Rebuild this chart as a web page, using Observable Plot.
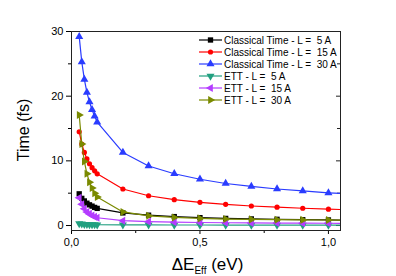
<!DOCTYPE html>
<html>
<head>
<meta charset="utf-8">
<script src="https://cdn.jsdelivr.net/npm/d3@7"></script>
<script src="https://cdn.jsdelivr.net/npm/@observablehq/plot@0.6"></script>
<style>
  html, body { margin: 0; padding: 0; background: #fff; }
  #chart svg { display: block; }
</style>
</head>
<body>
<div id="chart"></div>
<script>
// ---- data ----
const energies = [0.03, 0.04, 0.05, 0.06, 0.07, 0.08, 0.09, 0.1, 0.2, 0.3, 0.4, 0.5, 0.6, 0.7, 0.8, 0.9, 1.0, 1.1];
const classical5  = [4.9, 4.2, 3.8, 3.45, 3.2, 3.0, 2.8, 2.65, 1.95, 1.6, 1.38, 1.22, 1.1, 1.02, 0.96, 0.9, 0.86, 0.82];
const classical15 = [14.5, 12.6, 11.3, 10.3, 9.55, 8.95, 8.45, 8.0, 5.65, 4.6, 4.0, 3.58, 3.27, 3.02, 2.83, 2.67, 2.53, 2.42];
const classical30 = [29.2, 25.3, 22.6, 20.6, 19.1, 17.9, 16.9, 16.0, 11.3, 9.2, 8.0, 7.15, 6.5, 6.05, 5.65, 5.35, 5.06, 4.83];
const ett5  = [0.3, 0.25, 0.2, 0.18, 0.16, 0.14, 0.13, 0.12, 0.1, 0.09, 0.08, 0.08, 0.07, 0.07, 0.07, 0.06, 0.06, 0.06];
const ett15 = [4.3, 3.3, 2.6, 2.1, 1.8, 1.55, 1.35, 1.2, 0.75, 0.6, 0.52, 0.47, 0.43, 0.4, 0.38, 0.36, 0.35, 0.34];
const ett30 = [17.1, 12.6, 9.9, 8.0, 6.7, 5.8, 5.0, 4.4, 2.1, 1.5, 1.25, 1.1, 1.0, 0.95, 0.9, 0.87, 0.85, 0.83];
const seriesNames = [
  "Classical Time - L =  5 A",
  "Classical Time - L =  15 A",
  "Classical Time - L =  30 A",
  "ETT - L =  5 A",
  "ETT - L =  15 A",
  "ETT - L =  30 A"
];
const seriesValues = [classical5, classical15, classical30, ett5, ett15, ett30];
const yTicks = [0, 10, 20, 30];
const yMinorTicks = [5, 15, 25];
const xTicks = [0, 0.5, 1.0];
const xMinorTicks = [0.25, 0.75];

// ---- styles ----
const colors = ["#000000", "#ff0000", "#2a3cff", "#22a080", "#b43cff", "#7a8a00"];
const symbols = ["square", "circle", "triangle", "triangle", "triangle", "triangle"];
const rotations = [0, 0, 0, 180, -90, 90];

const W = 396, H = 276;
const mL = 71, mR = 56, mT = 31, mB = 46;

const marks = [];
seriesValues.forEach((vals, i) => {
  const rows = energies.map((e, j) => ({x: e, y: vals[j]}));
  marks.push(Plot.line(rows, {x: "x", y: "y", stroke: colors[i], strokeWidth: 1.2, clip: true}));
  marks.push(Plot.dot(rows, {x: "x", y: "y", fill: colors[i], stroke: "none", symbol: symbols[i], rotate: rotations[i], r: symbols[i] === "circle" ? 2.6 : 3.0, clip: true}));
});

const fmt = d => d3.format(".1f")(d).replace(".", ",");

const plot = Plot.plot({
  width: W,
  height: H,
  marginLeft: mL, marginRight: mR, marginTop: mT, marginBottom: mB,
  style: {fontFamily: "Arial, 'Liberation Sans', sans-serif", fontSize: "11px", color: "#000", background: "#fff"},
  x: {domain: [0, 1.047]},
  y: {domain: [-0.77, 30]},
  marks: [
    Plot.axisY(yTicks, {anchor: "left", tickSize: 5, tickPadding: 3, tickFormat: d => String(d), label: null, fontSize: 11}),
    Plot.axisY(yMinorTicks, {anchor: "left", tickSize: 3, text: null, label: null}),
    Plot.axisX(xTicks, {anchor: "bottom", tickSize: 4, tickPadding: 4, tickFormat: fmt, label: null, fontSize: 11}),
    Plot.axisX(xMinorTicks, {anchor: "bottom", tickSize: 3, text: null, label: null}),
    Plot.tickY(yTicks, {y: d => d, insetLeft: W - mL - mR - 4, stroke: "#222"}),
    Plot.tickY(yMinorTicks, {y: d => d, insetLeft: W - mL - mR - 3, stroke: "#222"}),
    ...marks,
    Plot.frame({stroke: "#222", strokeWidth: 1})
  ]
});

document.getElementById("chart").appendChild(plot);

// ---- titles and legend ----
const svg = d3.select(plot);
const font = "Arial, 'Liberation Sans', sans-serif";

svg.append("text")
  .attr("transform", "translate(29,130) rotate(-90)")
  .attr("text-anchor", "middle")
  .attr("font-family", font)
  .attr("font-size", 16)
  .attr("fill", "#000")
  .text("Time (fs)");

const xt = svg.append("text")
  .attr("x", 207.5).attr("y", 270)
  .attr("text-anchor", "middle")
  .attr("font-family", font)
  .attr("font-size", 17)
  .attr("fill", "#000");
xt.append("tspan").text("ΔE");
xt.append("tspan").attr("font-size", 10).attr("dy", 4).text("Eff");
xt.append("tspan").attr("dy", -4).text(" (eV)");

const lg = svg.append("g").attr("font-family", font).attr("font-size", 10).attr("text-anchor", "start");
seriesNames.forEach((name, i) => {
  const y = 40 + i * 12;
  lg.append("line").attr("x1", 199).attr("x2", 222).attr("y1", y).attr("y2", y)
    .attr("stroke", colors[i]).attr("stroke-width", 1.2);
  const symType = symbols[i] === "square" ? d3.symbolSquare : symbols[i] === "circle" ? d3.symbolCircle : d3.symbolTriangle;
  const r = symbols[i] === "circle" ? 2.6 : 3.0;
  lg.append("path")
    .attr("d", d3.symbol(symType, Math.PI * r * r)())
    .attr("transform", `translate(210.5,${y}) rotate(${rotations[i]})`)
    .attr("fill", colors[i]);
  lg.append("text").attr("x", 224).attr("y", y).attr("dy", "0.35em")
    .attr("text-anchor", "start")
    .style("white-space", "pre")
    .attr("fill", "#000")
    .text(name);
});
</script>
</body>
</html>
